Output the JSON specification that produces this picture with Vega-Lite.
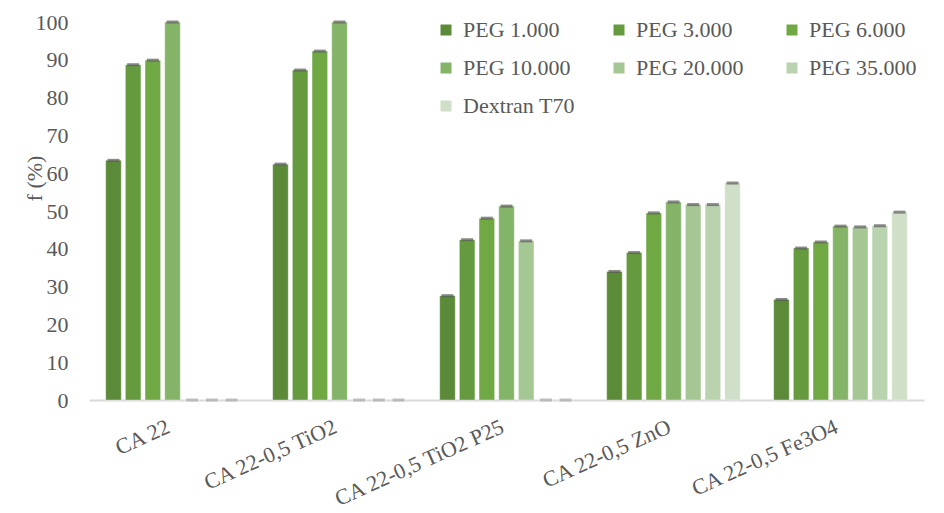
{
  "$schema": "https://vega.github.io/schema/vega-lite/v6.json",
  "autosize": "none",
  "width": 835,
  "height": 378,
  "padding": {"left": 89, "top": 22, "right": 20, "bottom": 113},
  "background": "white",
  "config": {
    "view": {"stroke": null},
    "font": "Liberation Serif",
    "axis": {"labelFont": "Liberation Serif", "titleFont": "Liberation Serif", "labelColor": "#595959", "titleColor": "#595959", "labelFontSize": 22, "titleFontSize": 22, "titleFontWeight": "normal"},
    "legend": {"labelFont": "Liberation Serif", "labelColor": "#595959", "labelFontSize": 22}
  },
  "data": {
    "values": [
      {"sample": "CA 22", "series": "PEG 1.000", "value": 63.4},
      {"sample": "CA 22", "series": "PEG 3.000", "value": 88.7},
      {"sample": "CA 22", "series": "PEG 6.000", "value": 89.9},
      {"sample": "CA 22", "series": "PEG 10.000", "value": 100},
      {"sample": "CA 22", "series": "PEG 20.000", "value": 0},
      {"sample": "CA 22", "series": "PEG 35.000", "value": 0},
      {"sample": "CA 22", "series": "Dextran T70", "value": 0},
      {"sample": "CA 22-0,5 TiO2", "series": "PEG 1.000", "value": 62.4},
      {"sample": "CA 22-0,5 TiO2", "series": "PEG 3.000", "value": 87.3},
      {"sample": "CA 22-0,5 TiO2", "series": "PEG 6.000", "value": 92.3},
      {"sample": "CA 22-0,5 TiO2", "series": "PEG 10.000", "value": 100},
      {"sample": "CA 22-0,5 TiO2", "series": "PEG 20.000", "value": 0},
      {"sample": "CA 22-0,5 TiO2", "series": "PEG 35.000", "value": 0},
      {"sample": "CA 22-0,5 TiO2", "series": "Dextran T70", "value": 0},
      {"sample": "CA 22-0,5 TiO2 P25", "series": "PEG 1.000", "value": 27.6},
      {"sample": "CA 22-0,5 TiO2 P25", "series": "PEG 3.000", "value": 42.4},
      {"sample": "CA 22-0,5 TiO2 P25", "series": "PEG 6.000", "value": 48.1},
      {"sample": "CA 22-0,5 TiO2 P25", "series": "PEG 10.000", "value": 51.3},
      {"sample": "CA 22-0,5 TiO2 P25", "series": "PEG 20.000", "value": 42.1},
      {"sample": "CA 22-0,5 TiO2 P25", "series": "PEG 35.000", "value": 0},
      {"sample": "CA 22-0,5 TiO2 P25", "series": "Dextran T70", "value": 0},
      {"sample": "CA 22-0,5 ZnO", "series": "PEG 1.000", "value": 34.0},
      {"sample": "CA 22-0,5 ZnO", "series": "PEG 3.000", "value": 39.0},
      {"sample": "CA 22-0,5 ZnO", "series": "PEG 6.000", "value": 49.5},
      {"sample": "CA 22-0,5 ZnO", "series": "PEG 10.000", "value": 52.4},
      {"sample": "CA 22-0,5 ZnO", "series": "PEG 20.000", "value": 51.7},
      {"sample": "CA 22-0,5 ZnO", "series": "PEG 35.000", "value": 51.7},
      {"sample": "CA 22-0,5 ZnO", "series": "Dextran T70", "value": 57.4},
      {"sample": "CA 22-0,5 Fe3O4", "series": "PEG 1.000", "value": 26.6},
      {"sample": "CA 22-0,5 Fe3O4", "series": "PEG 3.000", "value": 40.2},
      {"sample": "CA 22-0,5 Fe3O4", "series": "PEG 6.000", "value": 41.8},
      {"sample": "CA 22-0,5 Fe3O4", "series": "PEG 10.000", "value": 46.0},
      {"sample": "CA 22-0,5 Fe3O4", "series": "PEG 20.000", "value": 45.8},
      {"sample": "CA 22-0,5 Fe3O4", "series": "PEG 35.000", "value": 46.1},
      {"sample": "CA 22-0,5 Fe3O4", "series": "Dextran T70", "value": 49.7}
    ]
  },
  "encoding": {
    "x": {
      "field": "sample", "type": "nominal", "sort": null,
      "scale": {"paddingInner": 0.2, "paddingOuter": 0.1},
      "axis": {"title": null, "labelAngle": -24, "labelFontSize": 22, "labelAlign": "right", "labelBaseline": "top", "labelPadding": 16, "labelOffset": -8, "ticks": false, "domainColor": "#d9d9d9", "domainWidth": 2, "labelLimit": 400, "labelOverlap": false, "grid": false}
    },
    "xOffset": {
      "field": "series", "type": "nominal",
      "sort": ["PEG 1.000", "PEG 3.000", "PEG 6.000", "PEG 10.000", "PEG 20.000", "PEG 35.000", "Dextran T70"],
      "scale": {"paddingInner": 0.21, "paddingOuter": 0}
    },
    "y": {
      "field": "value", "type": "quantitative",
      "scale": {"domain": [0, 100], "nice": false},
      "axis": {"title": "f (%)", "values": [0,10,20,30,40,50,60,70,80,90,100], "labelOverlap": false, "grid": false, "domain": false, "ticks": false, "labelPadding": 21, "titleX": -55, "titleY": 156, "titleAngle": -90, "titleAlign": "center", "titleBaseline": "middle"}
    }
  },
  "layer": [
    {
      "mark": {"type": "bar", "stroke": "#ffffff", "strokeOpacity": 0.35, "strokeWidth": 1},
      "encoding": {
        "color": {
          "field": "series", "type": "nominal",
          "sort": ["PEG 1.000", "PEG 3.000", "PEG 6.000", "PEG 10.000", "PEG 20.000", "PEG 35.000", "Dextran T70"],
          "scale": {
            "domain": ["PEG 1.000", "PEG 3.000", "PEG 6.000", "PEG 10.000", "PEG 20.000", "PEG 35.000", "Dextran T70"],
            "range": ["#5b8a38", "#659a3e", "#70a844", "#84b467", "#a5c793", "#b9d3ae", "#d0e0c8"]
          },
          "legend": {"title": null, "orient": "none", "direction": "horizontal", "legendX": 346, "legendY": -3, "columns": 3, "columnPadding": 33, "rowPadding": 16, "symbolType": "square", "symbolSize": 121, "symbolStrokeWidth": 0, "labelOffset": 6, "padding": 0, "gridAlign": "all"}
        }
      }
    },
    {
      "mark": {"type": "tick", "thickness": 3, "size": 12},
      "encoding": {
        "color": {"condition": {"test": "datum.value === 0", "value": "#a6a6a6"}, "value": "#595959"}
      }
    }
  ]
}
